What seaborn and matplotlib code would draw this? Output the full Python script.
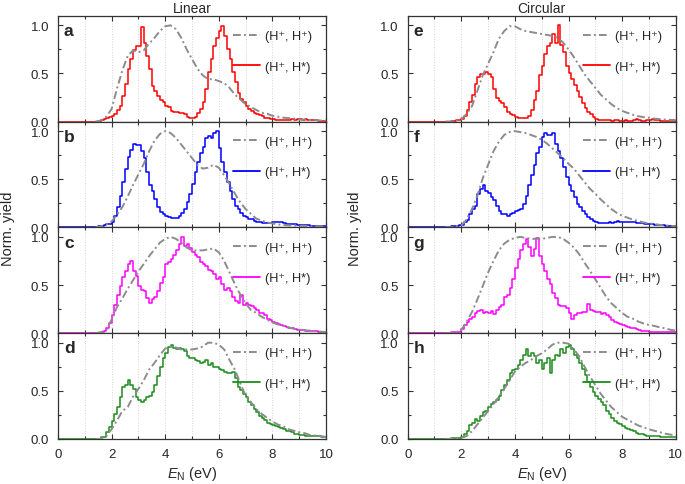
import numpy as np
import matplotlib.pyplot as plt
import seaborn as sns
from matplotlib.lines import Line2D

sns.set_theme(style="ticks")
plt.rcParams["font.family"] = ["Liberation Sans", "DejaVu Sans"]
plt.rcParams["mathtext.fontset"] = "custom"
plt.rcParams["mathtext.rm"] = "Liberation Sans"
plt.rcParams["mathtext.it"] = "Liberation Sans:italic"
plt.rcParams["mathtext.bf"] = "Liberation Sans:bold"

# histogram bins: 0.1 eV wide, 0-10 eV; bins below 1.5 eV are empty
energy_edges = np.linspace(0, 10, 101)
energy_centers = (energy_edges[:-1] + energy_edges[1:]) / 2
leading_zeros = [0.0] * 15
# smooth (H+, H+) reference curves are sampled every 0.2 eV from 1.4 eV
gray_energy = np.linspace(1.4, 10.0, 44)

# (H+, H*) yields, bins starting at 1.5 eV (rows of 10 bins)
lin_a = [0.00, 0.02, 0.03, 0.04, 0.05, 0.06, 0.08, 0.12, 0.16, 0.27,
         0.39, 0.55, 0.65, 0.74, 0.79, 0.79, 0.98, 0.82, 0.68, 0.55,
         0.37, 0.32, 0.27, 0.22, 0.20, 0.16, 0.15, 0.11, 0.10, 0.10,
         0.09, 0.09, 0.08, 0.05, 0.04, 0.04, 0.05, 0.09, 0.13, 0.20,
         0.34, 0.51, 0.65, 0.79, 0.87, 0.94, 0.99, 0.89, 0.75, 0.65,
         0.51, 0.41, 0.30, 0.23, 0.20, 0.16, 0.13, 0.11, 0.09, 0.08,
         0.07, 0.06, 0.04, 0.04, 0.03, 0.025, 0.02, 0.02, 0.02, 0.02,
         0.02, 0.02, 0.03, 0.02, 0.03, 0.03, 0.02, 0.03, 0.02, 0.02,
         0.015, 0.015, 0.01, 0.01, 0.01]
lin_b = [0.01, 0.01, 0.02, 0.03, 0.03, 0.05, 0.12, 0.21, 0.33, 0.47,
         0.61, 0.73, 0.80, 0.87, 0.86, 0.86, 0.79, 0.72, 0.58, 0.44,
         0.38, 0.29, 0.21, 0.16, 0.14, 0.12, 0.11, 0.095, 0.10, 0.095,
         0.12, 0.15, 0.19, 0.26, 0.35, 0.45, 0.58, 0.68, 0.77, 0.84,
         0.93, 0.95, 0.93, 0.98, 1.00, 0.82, 0.68, 0.58, 0.47, 0.38,
         0.29, 0.22, 0.19, 0.15, 0.12, 0.11, 0.09, 0.085, 0.07, 0.06,
         0.05, 0.04, 0.04, 0.04, 0.04, 0.05, 0.05, 0.06, 0.05, 0.04,
         0.03, 0.03, 0.03, 0.03, 0.025, 0.02, 0.02, 0.02, 0.02, 0.015,
         0.015, 0.01, 0.01, 0.01, 0.01]
lin_c = [0.00, 0.01, 0.02, 0.05, 0.10, 0.19, 0.29, 0.40, 0.49, 0.58,
         0.65, 0.72, 0.75, 0.65, 0.59, 0.49, 0.45, 0.44, 0.36, 0.31,
         0.35, 0.38, 0.44, 0.52, 0.58, 0.72, 0.74, 0.77, 0.81, 0.86,
         0.93, 1.00, 0.91, 0.93, 0.88, 0.84, 0.81, 0.79, 0.74, 0.72,
         0.70, 0.66, 0.65, 0.61, 0.56, 0.58, 0.51, 0.45, 0.47, 0.44,
         0.38, 0.33, 0.31, 0.40, 0.29, 0.31, 0.29, 0.28, 0.26, 0.24,
         0.21, 0.21, 0.19, 0.15, 0.14, 0.12, 0.11, 0.095, 0.085, 0.075,
         0.065, 0.055, 0.05, 0.04, 0.035, 0.03, 0.028, 0.025, 0.025, 0.022,
         0.02, 0.02, 0.015, 0.012, 0.01]
lin_d = [0.00, 0.02, 0.02, 0.07, 0.12, 0.19, 0.26, 0.33, 0.44, 0.54,
         0.56, 0.61, 0.56, 0.52, 0.44, 0.40, 0.38, 0.40, 0.44, 0.45,
         0.49, 0.56, 0.65, 0.75, 0.84, 0.89, 0.96, 0.98, 0.95, 0.93,
         0.95, 0.93, 0.91, 0.86, 0.84, 0.84, 0.82, 0.81, 0.79, 0.80,
         0.82, 0.77, 0.79, 0.75, 0.75, 0.73, 0.72, 0.70, 0.68, 0.69,
         0.70, 0.63, 0.54, 0.51, 0.47, 0.44, 0.38, 0.35, 0.31, 0.28,
         0.24, 0.22, 0.20, 0.17, 0.15, 0.14, 0.13, 0.12, 0.11, 0.10,
         0.085, 0.08, 0.07, 0.055, 0.05, 0.04, 0.04, 0.035, 0.035, 0.03,
         0.03, 0.025, 0.025, 0.02, 0.02]
circ_e = [0.00, 0.01, 0.01, 0.02, 0.02, 0.03, 0.06, 0.12, 0.20, 0.28,
          0.39, 0.46, 0.49, 0.49, 0.51, 0.49, 0.46, 0.34, 0.24, 0.21,
          0.19, 0.15, 0.10, 0.08, 0.07, 0.05, 0.04, 0.04, 0.04, 0.04,
          0.06, 0.12, 0.22, 0.32, 0.48, 0.58, 0.70, 0.78, 0.82, 0.91,
          0.82, 1.00, 0.80, 0.72, 0.58, 0.50, 0.44, 0.38, 0.32, 0.25,
          0.19, 0.14, 0.10, 0.08, 0.05, 0.03, 0.02, 0.02, 0.02, 0.015,
          0.015, 0.01, 0.02, 0.015, 0.01, 0.01, 0.015, 0.01, 0.01, 0.015,
          0.03, 0.015, 0.01, 0.01, 0.015, 0.02, 0.03, 0.015, 0.02, 0.01,
          0.01, 0.01, 0.01, 0.01, 0.01]
circ_f = [0.00, 0.01, 0.01, 0.015, 0.02, 0.02, 0.05, 0.08, 0.14, 0.19,
          0.22, 0.35, 0.40, 0.44, 0.38, 0.36, 0.31, 0.28, 0.22, 0.17,
          0.14, 0.14, 0.12, 0.14, 0.15, 0.17, 0.18, 0.19, 0.24, 0.33,
          0.44, 0.54, 0.65, 0.77, 0.84, 0.94, 0.98, 0.96, 0.96, 0.98,
          0.87, 0.79, 0.72, 0.63, 0.52, 0.44, 0.38, 0.31, 0.24, 0.21,
          0.17, 0.14, 0.11, 0.09, 0.07, 0.05, 0.04, 0.04, 0.04, 0.04,
          0.05, 0.045, 0.055, 0.065, 0.06, 0.06, 0.06, 0.06, 0.05, 0.05,
          0.045, 0.04, 0.04, 0.035, 0.035, 0.03, 0.03, 0.025, 0.025, 0.025,
          0.02, 0.015, 0.015, 0.01, 0.01]
circ_g = [0.00, 0.01, 0.01, 0.01, 0.01, 0.04, 0.08, 0.12, 0.15, 0.17,
          0.21, 0.23, 0.24, 0.21, 0.22, 0.21, 0.23, 0.20, 0.24, 0.27,
          0.29, 0.38, 0.40, 0.47, 0.56, 0.68, 0.77, 0.86, 0.93, 0.98,
          0.89, 0.80, 0.87, 0.99, 0.80, 0.72, 0.65, 0.56, 0.51, 0.42,
          0.36, 0.29, 0.28, 0.28, 0.26, 0.21, 0.15, 0.19, 0.21, 0.21,
          0.22, 0.22, 0.30, 0.24, 0.23, 0.22, 0.22, 0.20, 0.21, 0.19,
          0.17, 0.14, 0.12, 0.10, 0.095, 0.085, 0.075, 0.065, 0.055, 0.05,
          0.04, 0.03, 0.025, 0.02, 0.02, 0.015, 0.015, 0.01, 0.01, 0.01,
          0.01, 0.01, 0.01, 0.01, 0.01]
circ_h = [0.00, 0.01, 0.01, 0.01, 0.01, 0.02, 0.05, 0.08, 0.14, 0.17,
          0.21, 0.19, 0.24, 0.28, 0.29, 0.33, 0.36, 0.38, 0.40, 0.45,
          0.51, 0.56, 0.61, 0.68, 0.72, 0.73, 0.77, 0.82, 0.87, 0.93,
          0.86, 0.89, 0.86, 0.79, 0.82, 0.73, 0.79, 0.84, 0.68, 0.82,
          0.87, 0.86, 0.93, 0.89, 0.96, 0.98, 0.93, 0.87, 0.84, 0.79,
          0.73, 0.66, 0.59, 0.54, 0.49, 0.45, 0.42, 0.38, 0.35, 0.29,
          0.26, 0.22, 0.19, 0.17, 0.15, 0.13, 0.11, 0.10, 0.09, 0.08,
          0.065, 0.055, 0.05, 0.04, 0.035, 0.03, 0.03, 0.025, 0.025, 0.02,
          0.02, 0.02, 0.02, 0.02, 0.02]

# (H+, H+) reference curves, 1.4-10.0 eV every 0.2 eV
gray_a = [0.00, 0.01, 0.05, 0.13, 0.34, 0.53, 0.68, 0.74, 0.72, 0.74,
          0.81, 0.87, 0.94, 0.99, 1.00, 0.96, 0.87, 0.75, 0.65, 0.55,
          0.48, 0.44, 0.44, 0.42, 0.40, 0.35, 0.28, 0.23, 0.18, 0.15,
          0.12, 0.09, 0.08, 0.06, 0.05, 0.04, 0.035, 0.03, 0.02, 0.02,
          0.015, 0.015, 0.01, 0.01]
gray_b = [0.00, 0.01, 0.03, 0.06, 0.13, 0.21, 0.32, 0.44, 0.55, 0.66,
          0.79, 0.90, 0.97, 1.00, 0.98, 0.93, 0.86, 0.79, 0.72, 0.65,
          0.61, 0.62, 0.65, 0.62, 0.54, 0.45, 0.35, 0.26, 0.19, 0.14,
          0.09, 0.07, 0.05, 0.04, 0.03, 0.025, 0.02, 0.02, 0.015, 0.015,
          0.01, 0.01, 0.01, 0.01]
gray_c = [0.00, 0.01, 0.03, 0.14, 0.27, 0.36, 0.46, 0.55, 0.64, 0.72,
          0.80, 0.87, 0.94, 0.98, 1.00, 0.98, 0.94, 0.89, 0.86, 0.86,
          0.86, 0.87, 0.88, 0.84, 0.75, 0.63, 0.51, 0.40, 0.31, 0.24,
          0.21, 0.17, 0.14, 0.11, 0.09, 0.075, 0.06, 0.045, 0.035, 0.03,
          0.025, 0.02, 0.015, 0.01]
gray_d = [0.00, 0.00, 0.03, 0.10, 0.19, 0.29, 0.33, 0.44, 0.52, 0.61,
          0.72, 0.79, 0.87, 0.94, 0.96, 0.95, 0.93, 0.93, 0.93, 0.94,
          0.96, 1.00, 1.00, 0.98, 0.93, 0.82, 0.72, 0.58, 0.45, 0.38,
          0.31, 0.26, 0.22, 0.18, 0.15, 0.13, 0.10, 0.085, 0.07, 0.06,
          0.04, 0.035, 0.03, 0.02]
gray_e = [0.00, 0.00, 0.01, 0.02, 0.08, 0.16, 0.32, 0.48, 0.60, 0.72,
          0.86, 0.94, 0.99, 0.99, 0.96, 0.94, 0.93, 0.92, 0.91, 0.90,
          0.89, 0.87, 0.82, 0.75, 0.67, 0.58, 0.49, 0.42, 0.35, 0.28,
          0.23, 0.18, 0.14, 0.11, 0.09, 0.07, 0.055, 0.045, 0.04, 0.03,
          0.025, 0.02, 0.017, 0.015]
gray_f = [0.00, 0.00, 0.01, 0.02, 0.08, 0.19, 0.33, 0.51, 0.65, 0.79,
          0.89, 0.96, 0.99, 1.00, 0.99, 0.98, 0.96, 0.94, 0.91, 0.87,
          0.82, 0.77, 0.72, 0.66, 0.61, 0.54, 0.47, 0.40, 0.35, 0.29,
          0.24, 0.19, 0.15, 0.12, 0.10, 0.08, 0.065, 0.05, 0.04, 0.035,
          0.025, 0.02, 0.015, 0.012]
gray_g = [0.00, 0.00, 0.01, 0.03, 0.12, 0.22, 0.35, 0.49, 0.63, 0.75,
          0.86, 0.93, 0.97, 0.99, 1.00, 0.99, 0.98, 0.98, 0.98, 0.99,
          1.00, 1.00, 0.98, 0.94, 0.89, 0.82, 0.73, 0.65, 0.56, 0.47,
          0.38, 0.31, 0.26, 0.21, 0.17, 0.15, 0.12, 0.10, 0.085, 0.075,
          0.06, 0.05, 0.035, 0.025]
gray_h = [0.00, 0.00, 0.00, 0.01, 0.03, 0.08, 0.15, 0.22, 0.29, 0.36,
          0.44, 0.52, 0.61, 0.70, 0.75, 0.79, 0.82, 0.86, 0.89, 0.93,
          0.98, 1.00, 1.00, 0.99, 0.93, 0.86, 0.75, 0.65, 0.56, 0.47,
          0.40, 0.33, 0.28, 0.23, 0.20, 0.17, 0.14, 0.12, 0.10, 0.085,
          0.07, 0.055, 0.045, 0.035]

panel_labels = ["a", "b", "c", "d", "e", "f", "g", "h"]
star_series = [lin_a, lin_b, lin_c, lin_d, circ_e, circ_f, circ_g, circ_h]
gray_series = [gray_a, gray_b, gray_c, gray_d, gray_e, gray_f, gray_g, gray_h]
row_colors = ["#ff0000", "#0000ff", "#ff00ff", "#1b8c1b"]
column_titles = ["Linear", "Circular"]

gray_color = "#8c8c8c"
dashdot = (0, (4, 1.6, 1, 1.6))
label_pp = "(H\u207a, H\u207a)"
label_ps = "(H\u207a, H*)"

fig = plt.figure(figsize=(6.85, 4.85), dpi=100)
W, H = 685, 485
col_left = [58, 407.7]
ax_w = 268
top0 = 16.7
row_h = 105.8

for i, name in enumerate(panel_labels):
    col, row = divmod(i, 4)
    color = row_colors[row]
    bottom_px = top0 + (row + 1) * row_h
    ax = fig.add_axes([col_left[col] / W, 1 - bottom_px / H, ax_w / W, row_h / H])

    weights = leading_zeros + star_series[i]
    sns.histplot(x=energy_centers, weights=weights, bins=list(energy_edges),
                 element="step", fill=False, color=color, linewidth=1.1,
                 ax=ax, zorder=2)
    sns.lineplot(x=gray_energy, y=gray_series[i], color=gray_color,
                 linestyle=dashdot, linewidth=1.4, ax=ax, zorder=3)

    ax.set_xlim(0, 10)
    ax.set_ylim(0, 1.1)
    ax.set_xticks([0, 2, 4, 6, 8, 10])
    ax.set_xticks([1, 3, 5, 7, 9], minor=True)
    ax.set_yticks([0, 0.5, 1.0])
    ax.set_yticklabels(["0.0", "0.5", "1.0"])
    ax.set_yticks([0.25, 0.75], minor=True)
    ax.tick_params(which="both", direction="in", top=True, right=True,
                   labelsize=9.5, pad=6.5, color="#333333", width=0.8)
    ax.tick_params(which="major", length=3.5)
    ax.tick_params(which="minor", length=2)
    ax.grid(axis="x", which="both", linestyle=":", color="#d4d4d4", linewidth=0.7)
    ax.set_axisbelow(True)
    for sp in ax.spines.values():
        sp.set_color("#333333")
        sp.set_linewidth(0.9)
    ax.set_ylabel("")

    if row == 3:
        ax.set_xlabel("$E_\\mathrm{N}$ (eV)", fontsize=10.5, labelpad=3)
    else:
        ax.set_xlabel("")
        ax.tick_params(labelbottom=False)
    if row == 0:
        ax.set_title(column_titles[col], fontsize=10, pad=3)

    ax.text(0.022, 0.86, name, transform=ax.transAxes, fontsize=12.5,
            fontweight="bold", va="center", ha="left")

    handles = [Line2D([], [], color=gray_color, linestyle=dashdot, linewidth=1.4),
               Line2D([], [], color=color, linewidth=1.3)]
    ax.legend(handles, [label_pp, label_ps], loc="upper right",
              bbox_to_anchor=(0.948, 0.865), frameon=False, fontsize=9.2,
              handlelength=2.1, handletextpad=0.4, labelspacing=1.45,
              borderpad=0, borderaxespad=0)

fig.text(0.012, 0.528, "Norm. yield", rotation=90, fontsize=10.5,
         ha="center", va="center")
fig.text(0.518, 0.528, "Norm. yield", rotation=90, fontsize=10.5,
         ha="center", va="center")

fig.savefig("out.png", dpi=100)
